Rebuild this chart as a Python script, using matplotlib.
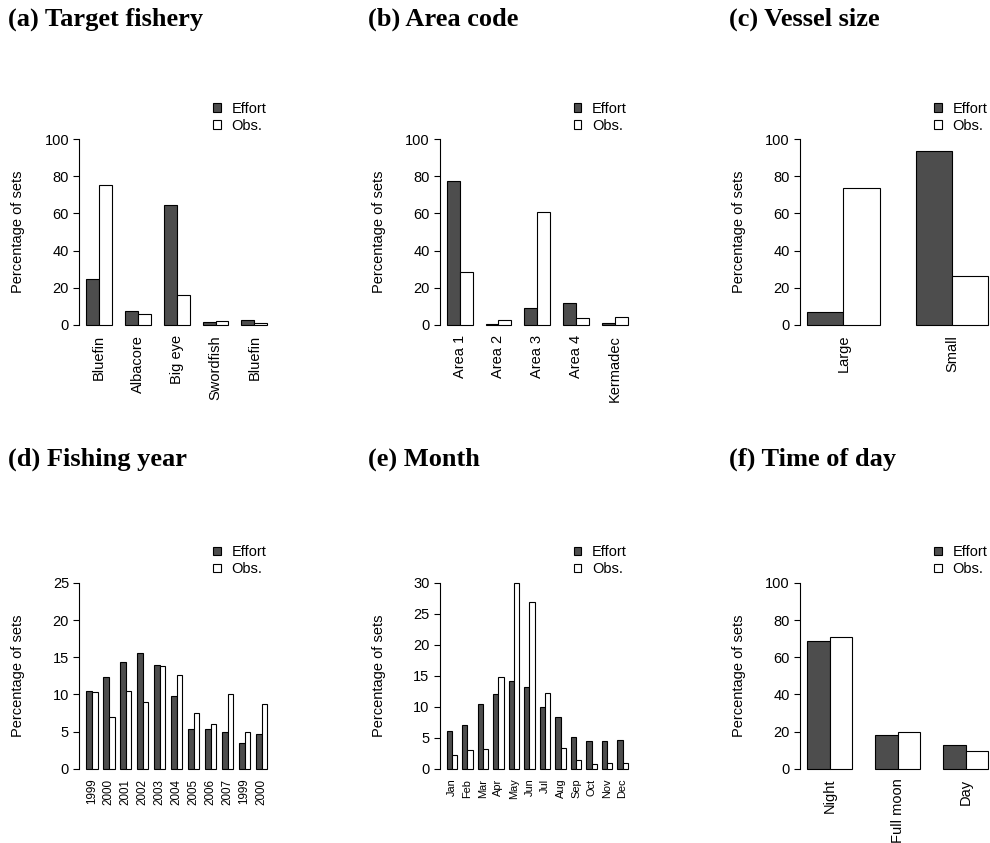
import numpy as np
import matplotlib
matplotlib.use("Agg")
import matplotlib.pyplot as plt
from matplotlib.patches import Patch

plt.rcParams['font.family'] = ['Liberation Sans', 'DejaVu Sans']
plt.rcParams['font.size'] = 10.5

# (a) Target fishery
fishery_labels = ["Bluefin", "Albacore", "Big eye", "Swordfish", "Bluefin"]
fishery_effort = [24.7, 7.3, 64.3, 1.4, 2.5]
fishery_obs = [75.4, 5.7, 15.9, 2.1, 0.9]

# (b) Area code
area_labels = ["Area 1", "Area 2", "Area 3", "Area 4", "Kermadec"]
area_effort = [77.4, 0.4, 9.0, 12.0, 1.3]
area_obs = [28.7, 2.7, 60.6, 3.8, 4.3]

# (c) Vessel size
vessel_labels = ["Large", "Small"]
vessel_effort = [6.8, 93.5]
vessel_obs = [73.5, 26.5]

# (d) Fishing year
year_labels = ["1999", "2000", "2001", "2002", "2003", "2004",
               "2005", "2006", "2007", "1999", "2000"]
year_effort = [10.5, 12.4, 14.3, 15.5, 13.9, 9.8, 5.3, 5.4, 4.9, 3.4, 4.7]
year_obs = [10.3, 6.9, 10.4, 9.0, 13.8, 12.6, 7.5, 6.0, 10.0, 4.9, 8.7]

# (e) Month
month_labels = ["Jan", "Feb", "Mar", "Apr", "May", "Jun",
                "Jul", "Aug", "Sep", "Oct", "Nov", "Dec"]
month_effort = [6.1, 7.0, 10.5, 12.0, 14.1, 13.15, 9.9, 8.4, 5.2, 4.5, 4.55, 4.6]
month_obs = [2.3, 3.1, 3.2, 14.8, 30.0, 26.9, 12.3, 3.3, 1.45, 0.75, 0.86, 0.9]

# (f) Time of day
time_labels = ["Night", "Full moon", "Day"]
time_effort = [68.9, 18.4, 12.7]
time_obs = [70.7, 19.9, 9.5]

DARK = "#4d4d4d"
FIG_W, FIG_H = 990, 843

panels = [
    ("(a) Target fishery", fishery_labels, fishery_effort, fishery_obs, 100, 20, 10.5),
    ("(b) Area code", area_labels, area_effort, area_obs, 100, 20, 10.5),
    ("(c) Vessel size", vessel_labels, vessel_effort, vessel_obs, 100, 20, 10.5),
    ("(d) Fishing year", year_labels, year_effort, year_obs, 25, 5, 8.4),
    ("(e) Month", month_labels, month_effort, month_obs, 30, 5, 7.9),
    ("(f) Time of day", time_labels, time_effort, time_obs, 100, 20, 10.5),
]

# layout in pixels (plot region of each panel)
col_left = [79, 439.5, 800]
row_top = [131.6, 575.4]
reg_w, reg_h = 195.5, 200.8
title_x = [8, 368, 729]
title_base = [26, 466]


def draw_panel(ax, labels, effort, obs, ymax, ystep, name_size):
    n = len(labels)
    left = 1 + 3 * np.arange(n)
    ax.bar(left, effort, width=1, align='edge', color=DARK,
           edgecolor='black', linewidth=0.8)
    ax.bar(left + 1, obs, width=1, align='edge', color='white',
           edgecolor='black', linewidth=0.8)
    span = 3 * n - 1
    ax.set_xlim(1 - 0.04 * span, 3 * n + 0.04 * span)
    ax.set_ylim(-0.04 * ymax, 1.04 * ymax)
    ax.set_xticks(left + 1)
    ax.set_xticklabels(labels, rotation=90, fontsize=name_size)
    ax.set_yticks(np.arange(0, ymax + 1, ystep))
    ax.tick_params(axis='x', length=0, pad=1.8)
    ax.tick_params(axis='y', length=4.1, width=0.8, pad=3.1, labelsize=10.5)
    for side in ['top', 'right', 'bottom']:
        ax.spines[side].set_visible(False)
    ax.spines['left'].set_bounds(0, ymax)
    ax.spines['left'].set_linewidth(0.8)
    ax.set_ylabel("Percentage of sets", fontsize=10.5, va='center')
    ax.yaxis.set_label_coords(-61 / reg_w, 0.5)
    handles = [Patch(facecolor=DARK, edgecolor='black', linewidth=0.8, label='Effort'),
               Patch(facecolor='white', edgecolor='black', linewidth=0.8, label='Obs.')]
    ax.legend(handles=handles, loc='lower right', bbox_to_anchor=(1, 0.955),
              frameon=False, handlelength=0.5, handleheight=0.5,
              handletextpad=0.75, labelspacing=0.2, borderpad=0.55,
              borderaxespad=0, fontsize=10.5)
    ax.patch.set_visible(False)


fig = plt.figure(figsize=(FIG_W / 100, FIG_H / 100), dpi=100)
for i, (title, labels, effort, obs, ymax, ystep, name_size) in enumerate(panels):
    r, c = divmod(i, 3)
    ax = fig.add_axes([col_left[c] / FIG_W,
                       1 - (row_top[r] + reg_h) / FIG_H,
                       reg_w / FIG_W, reg_h / FIG_H])
    draw_panel(ax, labels, effort, obs, ymax, ystep, name_size)
    fig.text(title_x[c] / FIG_W, 1 - title_base[r] / FIG_H, title,
             va='baseline', ha='left', fontsize=19, fontweight='bold',
             family=['Liberation Serif', 'DejaVu Serif'])

fig.savefig("out.png", dpi=100)
